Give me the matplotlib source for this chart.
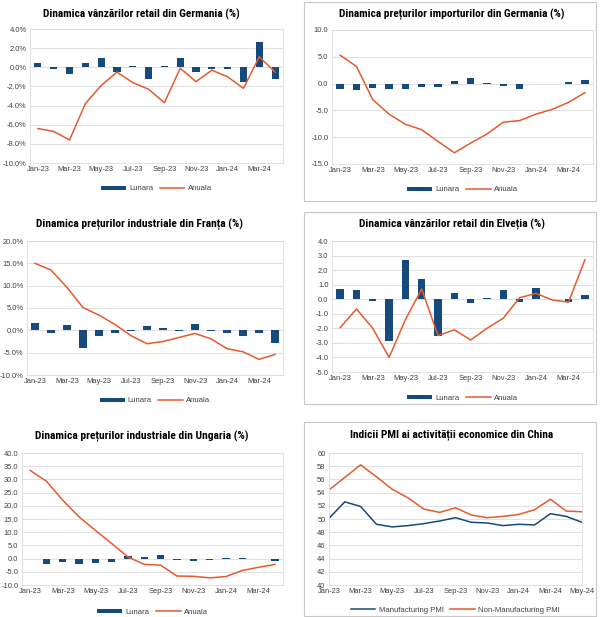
import matplotlib
matplotlib.use('Agg')
import matplotlib.pyplot as plt
from matplotlib.patches import Rectangle, Patch
from matplotlib.lines import Line2D
from matplotlib.ticker import FuncFormatter

# months for the bar/line panels (Jan-23 .. Apr-24)
months = ['Jan-23', 'Feb-23', 'Mar-23', 'Apr-23', 'May-23', 'Jun-23', 'Jul-23', 'Aug-23',
          'Sep-23', 'Oct-23', 'Nov-23', 'Dec-23', 'Jan-24', 'Feb-24', 'Mar-24', 'Apr-24']
# months for the PMI panel (Jan-23 .. May-24)
pmi_months = months + ['May-24']

# Germania - vanzari retail
de_retail_lunara = [0.4, -0.2, -0.7, 0.4, 1.0, -0.5, 0.1, -1.2, 0.1, 1.0, -0.5, -0.2, -0.2, -1.5, 2.6, -1.2]
de_retail_anuala = [-6.4, -6.7, -7.6, -3.8, -1.9, -0.5, -1.6, -2.3, -3.7, -0.1, -1.5, -0.3, -1.0, -2.2, 1.1, -0.5]

# Germania - preturi import
de_import_lunara = [-1.1, -1.2, -0.8, -1.1, -1.1, -0.7, -0.6, 0.4, 1.1, 0.05, -0.5, -1.0, 0.0, -0.1, 0.3, 0.7]
de_import_anuala = [5.3, 3.2, -3.0, -5.7, -7.6, -8.6, -10.8, -12.9, -11.1, -9.4, -7.2, -6.9, -5.7, -4.8, -3.5, -1.7]

# Franta - preturi industriale
fr_ind_lunara = [1.7, -0.7, 1.1, -4.0, -1.3, -0.7, -0.2, 0.9, 0.5, -0.2, 1.5, -0.2, -0.6, -1.3, -0.7, -2.8]
fr_ind_anuala = [15.0, 13.5, 9.6, 5.1, 3.4, 1.3, -1.2, -3.0, -2.5, -1.6, -0.7, -1.9, -4.1, -4.8, -6.5, -5.4]

# Elvetia - vanzari retail
ch_retail_lunara = [0.7, 0.6, -0.1, -2.9, 2.7, 1.4, -2.5, 0.4, -0.25, 0.05, 0.6, -0.2, 0.8, 0.0, -0.2, 0.3]
ch_retail_anuala = [-1.95, -0.67, -2.0, -4.0, -1.4, 0.7, -2.5, -2.1, -2.8, -2.0, -1.3, 0.1, 0.4, -0.05, -0.2, 2.7]

# Ungaria - preturi industriale
hu_ind_lunara = [-0.1, -2.2, -1.3, -2.0, -1.7, -1.2, 0.9, 0.6, 1.5, -0.4, -0.8, -0.6, 0.05, 0.2, 0.0, -0.9]
hu_ind_anuala = [33.4, 29.3, 22.1, 15.8, 10.7, 5.7, 0.6, -2.2, -2.5, -6.6, -6.7, -7.3, -6.8, -4.5, -3.3, -2.2]

# China PMI
pmi_manuf = [50.1, 52.6, 51.9, 49.2, 48.8, 49.0, 49.3, 49.7, 50.2, 49.5, 49.4, 49.0, 49.2, 49.1, 50.8, 50.4, 49.5]
pmi_nonmanuf = [54.4, 56.3, 58.2, 56.4, 54.5, 53.2, 51.5, 51.0, 51.7, 50.6, 50.2, 50.4, 50.7, 51.4, 53.0, 51.2, 51.1]

BLUE = '#174A7C'
ORANGE = '#E65A2E'
GRID = '#DCDCDC'
TXT = '#404040'
W, H = 600, 617

fig = plt.figure(figsize=(W / 100, H / 100), dpi=100)
fig.patch.set_facecolor('white')
renderer = fig.canvas.get_renderer()

tick_font = ['Liberation Sans', 'DejaVu Sans']
title_family = ['Roboto Condensed', 'Open Sans Condensed', 'DejaVu Sans']


def px_axes(x0, y0, x1, y1):
    return fig.add_axes([x0 / W, 1 - y1 / H, (x1 - x0) / W, (y1 - y0) / H])


def add_title(text, cx, cy, target_w):
    # bold condensed title, size fitted to the width seen in the reference
    t = fig.text(cx / W, 1 - cy / H, text, ha='center', va='center', family=title_family,
                 fontweight='bold', fontstretch='condensed', fontsize=10, color='black')
    w = t.get_window_extent(renderer).width
    t.set_fontsize(min(11, 10 * target_w / w))
    return t


def style_axes(ax, ymin, ymax, step, fmt):
    ax.set_ylim(ymin, ymax)
    ticks = []
    v = ymin
    while v <= ymax + 1e-9:
        ticks.append(v)
        v += step
    ax.set_yticks(ticks)
    ax.yaxis.set_major_formatter(FuncFormatter(lambda v, p: fmt % v))
    ax.grid(axis='y', color=GRID, linewidth=0.6)
    ax.set_axisbelow(True)
    for s in ax.spines.values():
        s.set_color(GRID)
        s.set_linewidth(0.6)
    ax.tick_params(length=0, labelsize=5.4, colors=TXT, pad=2.5)
    for lab in ax.get_xticklabels() + ax.get_yticklabels():
        lab.set_fontfamily(tick_font)


def bar_panel(box, title, title_xy, title_w, lunara, anuala, ymin, ymax, step, fmt, legend_y):
    ax = px_axes(*box)
    x = list(range(len(months)))
    ax.bar(x, lunara, width=0.45, color=BLUE, zorder=2)
    ax.plot(x, anuala, color=ORANGE, linewidth=1.1, zorder=3)
    ax.set_xlim(-0.5, len(months) - 0.5)
    ax.set_xticks(x[::2])
    ax.set_xticklabels(months[::2])
    style_axes(ax, ymin, ymax, step, fmt)
    add_title(title, title_xy[0], title_xy[1], title_w)
    handles = [Patch(facecolor=BLUE, edgecolor='none'), Line2D([], [], color=ORANGE, linewidth=1.1)]
    cx = (box[0] + box[2]) / 2
    fig.legend(handles, ['Lunara', 'Anuala'], loc='center', bbox_to_anchor=(cx / W, 1 - legend_y / H),
               ncol=2, frameon=False, prop={'family': tick_font, 'size': 5.6},
               handlelength=3.2, handleheight=0.5, handletextpad=0.4, columnspacing=0.8, labelcolor=TXT)
    return ax


def border(x0, y0, x1, y1):
    fig.patches.append(Rectangle((x0 / W, 1 - y1 / H), (x1 - x0) / W, (y1 - y0) / H,
                                 transform=fig.transFigure, fill=False, edgecolor='#C8C8C8', linewidth=0.8))


pct = '%.1f%%'
one = '%.1f'

bar_panel((30, 29, 283, 163), 'Dinamica vânzărilor retail din Germania (%)', (141, 14), 197,
          de_retail_lunara, de_retail_anuala, -10, 4, 2, pct, 189)
bar_panel((332, 30, 593, 164), 'Dinamica prețurilor importurilor din Germania (%)', (452, 14), 226,
          de_import_lunara, de_import_anuala, -15, 10, 5, one, 190)
bar_panel((27, 241, 283, 375), 'Dinamica prețurilor industriale din Franța (%)', (140, 224), 206,
          fr_ind_lunara, fr_ind_anuala, -10, 20, 5, pct, 401)
bar_panel((332, 241, 593, 372), 'Dinamica vânzărilor retail din Elveția (%)', (452, 224), 186,
          ch_retail_lunara, ch_retail_anuala, -5, 4, 1, one, 398)
bar_panel((22, 453, 283, 585), 'Dinamica prețurilor industriale din Ungaria (%)', (142, 436), 213,
          hu_ind_lunara, hu_ind_anuala, -10, 40, 5, one, 612)

# China PMI panel
ax = px_axes(329, 453, 582, 585)
xp = list(range(len(pmi_months)))
ax.plot(xp, pmi_manuf, color=BLUE, linewidth=1.1, label='Manufacturing PMI')
ax.plot(xp, pmi_nonmanuf, color=ORANGE, linewidth=1.1, label='Non-Manufacturing PMI')
ax.set_xlim(0, len(pmi_months) - 1)
ax.set_xticks(xp[::2])
ax.set_xticklabels(pmi_months[::2])
style_axes(ax, 40, 60, 2, '%d')
add_title('Indicii PMI ai activității economice din China', 452, 435, 204)
fig.legend(*ax.get_legend_handles_labels(), loc='center', bbox_to_anchor=(455 / W, 1 - 610 / H),
           ncol=2, frameon=False, prop={'family': tick_font, 'size': 5.6},
           handlelength=3.2, handletextpad=0.4, columnspacing=0.8, labelcolor=TXT)

border(304, 2, 596, 201)
border(304, 212, 596, 404)
border(304, 422, 596, 616)

fig.savefig('out.png', dpi=100, facecolor='white')
